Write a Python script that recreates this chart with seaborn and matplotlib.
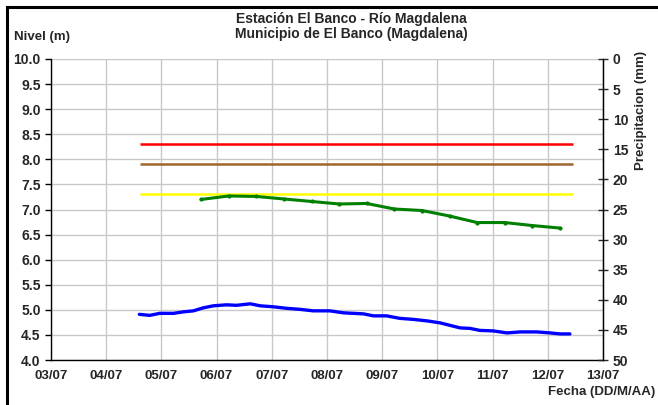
import pandas as pd
import matplotlib.pyplot as plt
import seaborn as sns
from matplotlib.patches import Rectangle

# Días de julio (fracción del día) y niveles
dias_nivel = [4.60, 4.79, 4.97, 5.22, 5.40, 5.58, 5.76, 5.94, 6.18, 6.36, 6.61,
              6.79, 7.03, 7.27, 7.51, 7.75, 8.05, 8.30, 8.66, 8.84, 9.08, 9.32,
              9.56, 9.81, 10.05, 10.41, 10.59, 10.77, 11.01, 11.26, 11.50, 11.80,
              12.04, 12.22, 12.40]
nivel = [4.91, 4.89, 4.93, 4.93, 4.96, 4.98, 5.04, 5.08, 5.10, 5.09, 5.12,
         5.08, 5.06, 5.03, 5.01, 4.98, 4.98, 4.94, 4.92, 4.88, 4.88, 4.83,
         4.81, 4.78, 4.74, 4.64, 4.63, 4.59, 4.58, 4.54, 4.56, 4.56,
         4.54, 4.52, 4.52]

dias_sensor = [5.72, 6.22, 6.72, 7.22, 7.72, 8.22, 8.72, 9.22, 9.72, 10.22,
               10.72, 11.22, 11.72, 12.22]
nivel_sensor = [7.20, 7.27, 7.26, 7.21, 7.16, 7.11, 7.12, 7.01, 6.98, 6.87,
                6.74, 6.74, 6.68, 6.63]

# Umbrales de alerta
umbrales = [8.30, 7.90, 7.30]
colores_umbral = ["#ff0000", "#a0642d", "#ffff00"]
inicio_umbral, fin_umbral = 4.61, 12.46

etiquetas_x = ["03/07", "04/07", "05/07", "06/07", "07/07", "08/07",
               "09/07", "10/07", "11/07", "12/07", "13/07"]
ticks_x = list(range(3, 14))

df_nivel = pd.DataFrame({"dia": dias_nivel, "nivel": nivel})
df_sensor = pd.DataFrame({"dia": dias_sensor, "nivel": nivel_sensor})

sns.set_style("white")
plt.rcParams['font.family'] = ['Liberation Sans', 'DejaVu Sans']
plt.rcParams['font.weight'] = 'bold'

fig = plt.figure(figsize=(6.58, 4.05), dpi=100)
ax = fig.add_axes([51 / 658, 45 / 405, 552 / 658, 301 / 405])

for y, c in zip(umbrales, colores_umbral):
    ax.hlines(y, inicio_umbral, fin_umbral, color=c, lw=1.8, zorder=3)

sns.lineplot(data=df_sensor, x="dia", y="nivel", ax=ax, color="#008000",
             lw=2.2, marker="o", markersize=3, markeredgewidth=0, zorder=4)
sns.lineplot(data=df_nivel, x="dia", y="nivel", ax=ax, color="#0000ff",
             lw=2.4, zorder=4)

ax.set_xlim(3, 13)
ax.set_ylim(4.0, 10.0)
ax.set_xticks(ticks_x)
ax.set_xticklabels(etiquetas_x)
ax.set_yticks([4.0 + 0.5 * i for i in range(13)])
ax.set_yticklabels([f"{4.0 + 0.5 * i:.1f}" for i in range(13)])
ax.set_xlabel("")
ax.set_ylabel("")
ax.grid(True, color="#c8c8c8", lw=1.0)
ax.set_axisbelow(True)
ax.tick_params(axis="x", labelsize=9.5, length=4, width=1, color="black",
               direction="out")
ax.tick_params(axis="y", labelsize=10, length=4, width=1, color="black",
               direction="out")
for s in ["left", "bottom", "right"]:
    ax.spines[s].set_color("black")
    ax.spines[s].set_linewidth(1.0)
ax.spines["top"].set_visible(False)

# Eje secundario de precipitación (invertido)
ax2 = ax.twinx()
ax2.set_ylim(50, 0)
ax2.set_yticks(range(0, 51, 5))
ax2.tick_params(axis="y", labelsize=10, length=7, width=1, direction="inout")
ax2.spines["top"].set_visible(False)
ax2.spines["left"].set_visible(False)
ax2.spines["right"].set_color("black")
ax2.spines["bottom"].set_visible(False)

fig.text(0.534, 1 - 19 / 405, "Estación El Banco - Río Magdalena", ha="center",
         va="center", fontsize=10, fontweight="bold")
fig.text(0.534, 1 - 34 / 405, "Municipio de El Banco (Magdalena)", ha="center",
         va="center", fontsize=10, fontweight="bold")
fig.text(14 / 658, 1 - 37 / 405, "Nivel (m)", ha="left", va="center",
         fontsize=9.5, fontweight="bold")
fig.text(641 / 658, 1 - 110 / 405, "Precipitacion (mm)", ha="center",
         va="center", rotation=90, fontsize=9.5, fontweight="bold")
fig.text(655 / 658, 1 - 392 / 405, "Fecha (DD/M/AA)", ha="right",
         va="center", fontsize=9.5, fontweight="bold")

# Marco exterior
fig.patches.append(Rectangle((7 / 658, -0.1), 1.2, 1.1 - 7 / 405,
                             transform=fig.transFigure, fill=False,
                             edgecolor="black", lw=2.2))

fig.savefig("out.png", dpi=100)
